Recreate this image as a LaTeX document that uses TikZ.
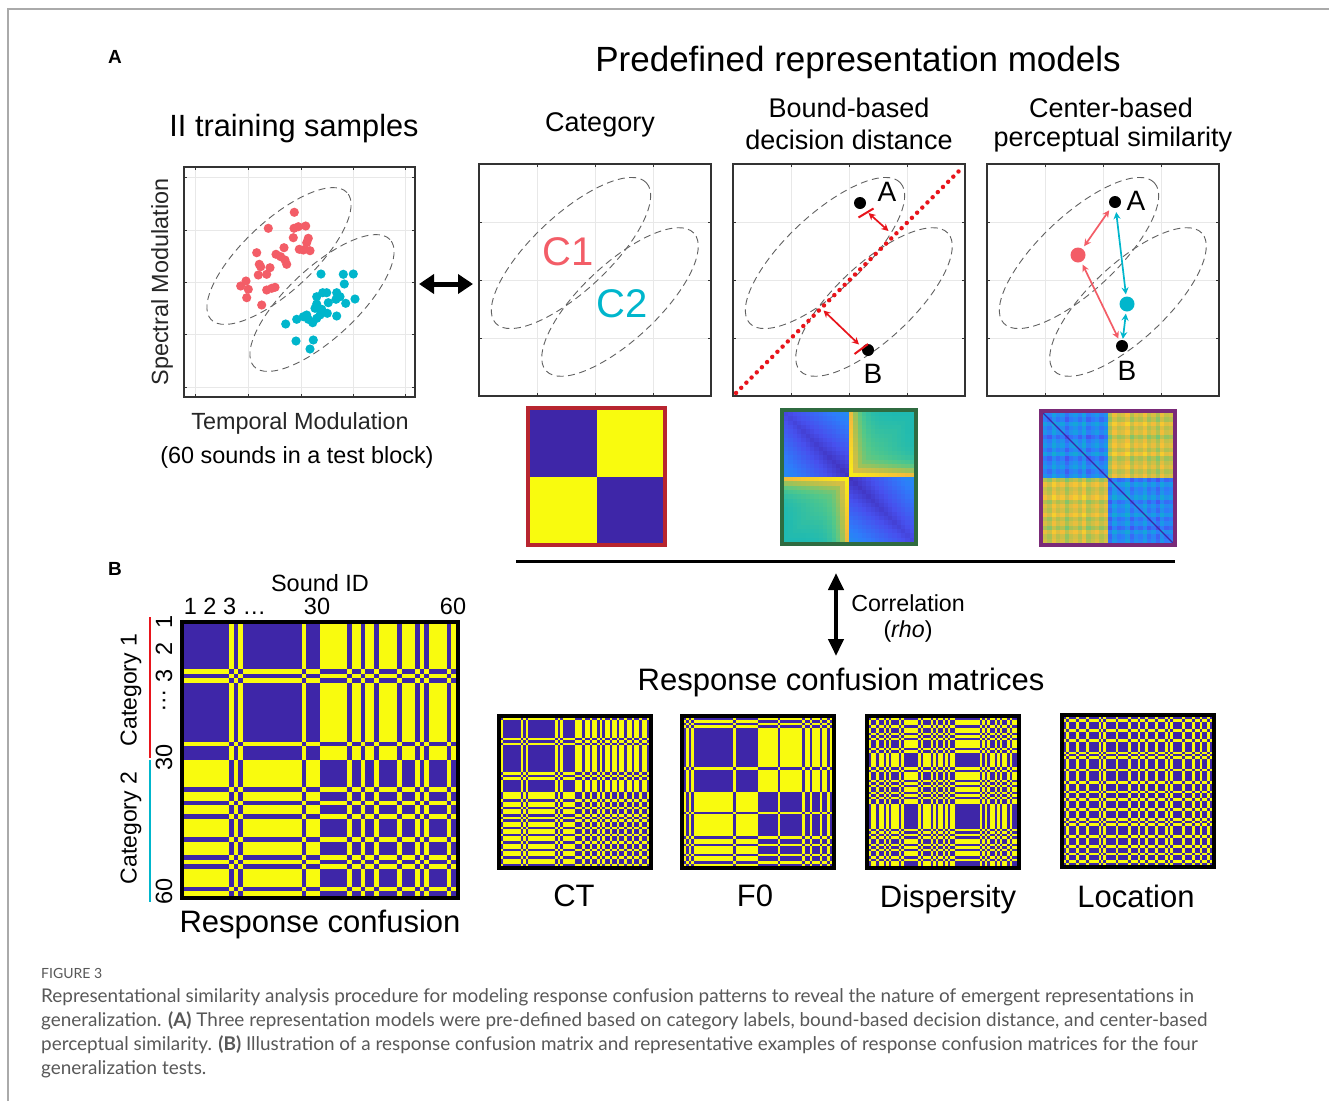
\documentclass[tikz,border=0pt]{standalone}
\usepackage{fontspec}
\setmainfont{Liberation Sans}
\newfontfamily\capfont{Lato}
\usetikzlibrary{arrows.meta}

\definecolor{pblue}{RGB}{62,38,168}
\definecolor{pyellow}{RGB}{249,251,14}
\definecolor{par0}{RGB}{62,38,168}
\definecolor{par1}{RGB}{71,80,238}
\definecolor{par2}{RGB}{45,125,250}
\definecolor{par3}{RGB}{22,160,226}
\definecolor{par4}{RGB}{18,183,188}
\definecolor{par5}{RGB}{84,200,136}
\definecolor{par6}{RGB}{172,193,80}
\definecolor{par7}{RGB}{245,189,57}
\definecolor{par8}{RGB}{249,251,14}
\definecolor{scred}{RGB}{243,93,103}
\definecolor{sccyan}{RGB}{0,182,204}
\definecolor{bdred}{RGB}{232,20,27}
\definecolor{catred}{RGB}{184,37,47}
\definecolor{bndgreen}{RGB}{47,107,64}
\definecolor{cenpurple}{RGB}{122,42,120}
\definecolor{framegray}{RGB}{170,170,170}
\definecolor{axtext}{RGB}{38,38,38}
\definecolor{captext}{RGB}{88,88,88}

\newcommand\fsz[1]{\fontsize{#1}{#1}\selectfont}

% parula-like colour for a value in [0,1], stored as pcell
\newcommand\paracolor[1]{%
  \pgfmathsetmacro\pt{min(0.9999,max(0,#1))*8}%
  \pgfmathtruncatemacro\pk{floor(\pt)}%
  \pgfmathtruncatemacro\pf{(\pt-\pk)*100}%
  \pgfmathtruncatemacro\pkk{\pk+1}%
  \colorlet{pcell}{par\pkk!\pf!par\pk}}

% binary confusion matrix: blue where two sounds share a response
\newcommand\confmat[4]{%
  \fill[pblue] (#1,#2) rectangle ++(#3,#3);
  \foreach \sa/\ea/\va in #4{%
    \foreach \sb/\eb/\vb in #4{%
      \ifnum\va=\vb\relax\else
        \fill[pyellow] ({#1+\sa*#3/60},{#2+\sb*#3/60}) rectangle ({#1+\ea*#3/60},{#2+\eb*#3/60});%
      \fi}}%
  \draw[line width=4pt] (#1-2,#2-2) rectangle (#1+#3+2,#2+#3+2);}

% one model panel: grid, ticks, two category regions, frame
\newcommand\modelpanel[2]{%
  \begin{scope}[shift={(#1,#2)}]
    \foreach \g in {58,116,174}{%
      \draw[gridline] (\g,0) -- (\g,232);
      \draw[gridline] (0,\g) -- (232,\g);
      \draw[tickmark] (\g,0) -- (\g,3) (\g,232) -- (\g,229) (0,\g) -- (3,\g) (232,\g) -- (229,\g);}
    \draw[region,rotate around={43:(92,89)}] (92,89) ellipse [x radius=103pt,y radius=38pt];
    \draw[region,rotate around={43:(141,138)}] (141,138) ellipse [x radius=101pt,y radius=38pt];
    \draw[panelframe] (0,0) rectangle (232,232);
  \end{scope}}

\def\runsB{0/10/0,10/11/1,11/12/0,12/13/1,13/26/0,26/27/1,27/30/0,30/36/1,36/37/0,37/39/1,39/40/0,40/42/1,42/43/0,43/47/1,47/48/0,48/51/1,51/52/0,52/53/1,53/54/0,54/58/1,58/59/0,59/60/1}
\def\runsCT{0/1/1,1/8/0,8/9/1,9/10/0,10/11/1,11/22/0,22/23/1,23/24/0,24/25/1,25/30/0,30/33/1,33/34/0,34/36/1,36/37/0,37/39/1,39/40/0,40/41/1,41/42/0,42/44/1,44/45/0,45/47/1,47/48/0,48/50/1,50/51/0,51/53/1,53/54/0,54/56/1,56/57/0,57/59/1,59/60/0}
\def\runsFO{0/1/0,1/2/1,2/3/0,3/4/1,4/20/0,20/21/1,21/30/0,30/38/1,38/39/0,39/48/1,48/49/0,49/51/1,51/52/0,52/55/1,55/56/0,56/58/1,58/59/0,59/60/1}
\def\runsDS{0/1/0,1/3/1,3/4/0,4/6/1,6/7/0,7/8/1,8/9/0,9/12/1,12/13/0,13/14/1,14/20/0,20/21/1,21/22/0,22/25/1,25/26/0,26/27/1,27/28/0,28/30/1,30/31/0,31/32/1,32/33/0,33/35/1,35/45/0,45/46/1,46/47/0,47/48/1,48/49/0,49/51/1,51/52/0,52/53/1,53/54/0,54/56/1,56/57/0,57/58/1,58/60/0}
\def\runsLC{0/1/0,1/2/1,2/5/0,5/6/1,6/9/0,9/10/1,10/14/0,14/15/1,15/16/0,16/17/1,17/21/0,21/22/1,22/26/0,26/27/1,27/30/0,30/31/1,31/33/0,33/34/1,34/37/0,37/38/1,38/41/0,41/42/1,42/43/0,43/44/1,44/48/0,48/49/1,49/52/0,52/53/1,53/55/0,55/56/1,56/58/0,58/59/1,59/60/0}
\def\noiseA{{0.2,-0.5,0.8,-0.1,0.4,-0.9,0.1,0.6,-0.3,0.9,-0.7,0.0,0.5,-0.4,0.3,-0.8,0.7,-0.2,0.1,0.9,-0.6,0.4,-0.1,0.8,-0.5,0.2,-0.9,0.6,-0.3,0.0}}

\begin{document}
\begin{tikzpicture}[x=1pt,y=-1pt,
  panelframe/.style={draw=black!80,line width=1.4pt},
  gridline/.style={draw=black!9,line width=0.9pt},
  tickmark/.style={draw=black!80,line width=1pt},
  region/.style={draw=black!62,line width=0.9pt,dash pattern=on 7pt off 4.5pt},
  blackdot/.style={circle,fill=black,inner sep=0pt,minimum size=12pt},
  bigdot/.style={circle,inner sep=0pt,minimum size=15pt},
  ptlabel/.style={inner sep=0pt,font=\fsz{28}},
  dbl/.style={{Stealth[length=7pt,width=7pt]}-{Stealth[length=7pt,width=7pt]},line width=1.7pt},
  heading/.style={inner sep=0pt,font=\fsz{27}},
  axlabel/.style={inner sep=0pt,font=\fsz{23.4},text=axtext},
  capline/.style={anchor=west,inner sep=0pt,font=\capfont\fsz{18.9},text=captext},
]
\useasboundingbox (0,0) rectangle (1329,1101);
\fill[white] (0,0) rectangle (1329,1101);
\draw[framegray,line width=1.5pt] (8,1101) -- (8,9) -- (1329,9);

% ---------- headings ----------
\node[inner sep=0pt,font=\bfseries\fsz{19}] (labA) at (115,57) {A};
\node[inner sep=0pt,font=\bfseries\fsz{19}] (labB) at (115,569) {B};
\node[inner sep=0pt,font=\fsz{35}] (ttl) at (858,62) {Predefined representation models};
\node[inner sep=0pt,font=\fsz{30.7}] (iit) at (294,129) {II training samples};
\node[heading] (hcat) at (600,125) {Category};
\node[heading] (hb1) at (849,108) {Bound-based};
\node[heading] (hb2) at (849,140) {decision distance};
\node[heading] (hc1) at (1111,108) {Center-based};
\node[heading] (hc2) at (1113,140) {perceptual similarity};

% ---------- training samples scatter ----------
\foreach \g in {195,248,301,353,405} \draw[gridline] (\g,167) -- (\g,397);
\foreach \g in {177,230,282,334,387} \draw[gridline] (184,\g) -- (415,\g);
\foreach \g in {195,248,301,353,405} \draw[tickmark] (\g,167) -- (\g,170) (\g,397) -- (\g,394);
\foreach \g in {177,230,282,334,387} \draw[tickmark] (184,\g) -- (187,\g) (415,\g) -- (412,\g);
\draw[region,rotate around={43:(279,256)}] (279,256) ellipse [x radius=93pt,y radius=35pt];
\draw[region,rotate around={43:(322,303)}] (322,303) ellipse [x radius=93pt,y radius=35pt];
\foreach \px/\py in {294.3/212.3,268.3/228.3,294/228.3,298.3/226.7,305.7/226,293.3/237.7,308.3/238.3,306.7/242.7,256.7/252.7,284/247.7,299.3/249.3,303.3/250,310/250.7,276/254.3,280.7/256.7,285/260,286.7/264.3,259.3/264.3,270/267.7,258.3/275,266.7/274.3,246/281,240.7/286,248.3/289.3,266.7/290,271.7/288.3,275/287.3,246.7/297.7,261.7/305,260.7/266.7}
  \fill[scred] (\px,\py) circle (4.6pt);
\foreach \px/\py in {321/274,343.3/274.3,353.3/274,344.3/284,322.7/292.7,326.7/292.7,336.7/292.7,340/296.7,336/299.3,316.7/296.7,328.3/302.7,316.7/304,345.7/303.3,355/299,315/308.3,321.7/309.3,327.3/313.3,320/315,306.7/315,303.3/316.7,296.7/319.3,285.7/324,312.7/322.7,316.7/318.3,336.7/316,296/341,313.3/340,310/349,308.3/319.3}
  \fill[sccyan] (\px,\py) circle (4.6pt);
\draw[panelframe] (184,167) rectangle (415,397);
\node[axlabel,rotate=90] (ylab) at (162,282) {Spectral Modulation};
\node[axlabel] (xlab) at (300,423) {Temporal Modulation};
\node[axlabel,text=black] (xlab2) at (297,457) {(60 sounds in a test block)};

% ---------- model panels ----------
\modelpanel{479}{164}
\modelpanel{733}{164}
\modelpanel{987}{164}

\coordinate (scatR) at (419,284);
\coordinate (catL) at (473,284);
\draw[{Triangle[length=15pt,width=19pt]}-{Triangle[length=15pt,width=19pt]},line width=5pt] (scatR) -- (catL);

% category labels
\node[inner sep=0pt,font=\fsz{40},text=scred] (c1) at (568,252) {C1};
\node[inner sep=0pt,font=\fsz{40},text=sccyan] (c2) at (622,304) {C2};

% bound-based panel
\coordinate (bndS) at (736,393);
\coordinate (bndE) at (963,167);
\draw[bdred,line width=4.4pt,line cap=round,dash pattern=on 0.1pt off 7.2pt] (bndS) -- (bndE);
\node[blackdot] (bA) at (860,203) {};
\node[ptlabel] (bAl) at (887,192) {A};
\node[blackdot] (bB) at (868,350) {};
\node[ptlabel] (bBl) at (873,374) {B};
\coordinate (barA1) at (858.5,217.5);
\coordinate (barA2) at (873.5,208.5);
\coordinate (barB1) at (854.5,354);
\coordinate (barB2) at (868,344);
\draw[bdred,line width=2pt] (barA1) -- (barA2);
\draw[bdred,line width=2pt] (barB1) -- (barB2);
\coordinate (arA1) at (868.5,213);
\coordinate (arA2) at (888.5,231);
\coordinate (arB1) at (823.5,310.5);
\coordinate (arB2) at (859,344.5);
\draw[dbl,bdred] (arA1) -- (arA2);
\draw[dbl,bdred] (arB1) -- (arB2);

% center-based panel
\node[blackdot] (cA) at (1115,202) {};
\node[ptlabel] (cAl) at (1136,201) {A};
\node[bigdot,fill=scred] (cR) at (1078,255) {};
\node[bigdot,fill=sccyan] (cC) at (1127,304) {};
\node[blackdot] (cB) at (1122,346) {};
\node[ptlabel] (cBl) at (1127,371) {B};
\draw[dbl,scred,shorten <=4pt,shorten >=3pt] (cA) -- (cR);
\draw[dbl,scred,shorten <=3pt,shorten >=2pt] (cR) -- (cB);
\draw[dbl,sccyan,shorten <=4pt,shorten >=2pt] (cA) -- (cC);
\draw[dbl,sccyan,shorten <=2pt,shorten >=1pt] (cC) -- (cB);

% ---------- model matrices ----------
% category labels model
\fill[pblue] (530,410) rectangle ++(133,133);
\fill[pyellow] (596.5,410) rectangle (663,476.5);
\fill[pyellow] (530,476.5) rectangle (596.5,543);
\draw[catred,line width=4pt] (528,408) rectangle (665,545);

% bound-based decision distance model
\begin{scope}[shift={(784,412)}]
\foreach \i in {0,...,29}{
  \foreach \j in {0,...,29}{
    \pgfmathsetmacro\pa{abs((\i+0.5)/15-1)}
    \pgfmathsetmacro\pb{abs((\j+0.5)/15-1)}
    \pgfmathsetmacro\tv{((\i<15)==(\j<15)) ? (0.04+0.27*abs(\pa-\pb)+0.06*min(\pa,\pb)) : (0.52+0.44*exp(-8*min(\pa,\pb))+0.12*(1-max(\pa,\pb)))}
    \paracolor{\tv}
    \fill[pcell] ({\j*130/30},{\i*130/30}) rectangle ++(4.7,4.7);
  }}
\end{scope}
\draw[bndgreen,line width=4pt] (782,410) rectangle (916,544);

% center-based perceptual similarity model
\begin{scope}[shift={(1043,413)}]
\foreach \i in {0,...,29}{
  \foreach \j in {0,...,29}{
    \pgfmathsetmacro\ni{\noiseA[\i]}
    \pgfmathsetmacro\nj{\noiseA[\j]}
    \pgfmathsetmacro\tv{((\i<15)==(\j<15)) ? (0.28+0.09*(\ni+\nj)) : (0.8+0.07*(\ni+\nj))}
    \paracolor{\tv}
    \fill[pcell] ({\j*130/30},{\i*130/30}) rectangle ++(4.7,4.7);
  }}
\draw[par0,line width=1.3pt] (0,0) -- (130,130);
\end{scope}
\draw[cenpurple,line width=4pt] (1041,411) rectangle (1175,545);

\draw[line width=3pt] (516,561) -- (1175,561);

% correlation arrow
\coordinate (corT) at (836,573);
\coordinate (corB) at (836,656);
\draw[{Triangle[length=17pt,width=15pt]}-{Triangle[length=17pt,width=15pt]},line width=4pt] (corT) -- (corB);
\node[inner sep=0pt,font=\fsz{23.2}] (corr) at (908,603) {Correlation};
\node[inner sep=0pt,font=\fsz{23.2}] (rho) at (908,631) {(\textit{rho})};

\node[inner sep=0pt,font=\fsz{31}] (rcm) at (841,682) {Response confusion matrices};

% ---------- response confusion matrices ----------
\confmat{184}{624}{272}{\runsB}
\confmat{501}{718}{148}{\runsCT}
\confmat{684}{718}{148}{\runsFO}
\confmat{869}{718}{148}{\runsDS}
\confmat{1064}{717}{148}{\runsLC}

\node[inner sep=0pt,font=\fsz{31}] (lct) at (574,896) {CT};
\node[inner sep=0pt,font=\fsz{31}] (lf0) at (755,896) {F0};
\node[inner sep=0pt,font=\fsz{31}] (lds) at (948,899) {Dispersity};
\node[inner sep=0pt,font=\fsz{31}] (llc) at (1136,896) {Location};

% big matrix axes
\node[inner sep=0pt,font=\fsz{23.5}] (sid) at (320,583) {Sound ID};
\node[inner sep=0pt,font=\fsz{23.5}] (n123) at (225,606) {1 2 3 …};
\node[inner sep=0pt,font=\fsz{23.5}] (n30) at (317,606) {30};
\node[inner sep=0pt,font=\fsz{23.5}] (n60) at (453,606) {60};
\coordinate (c1top) at (150,617);
\coordinate (c1bot) at (150,758);
\coordinate (c2top) at (150,760);
\coordinate (c2bot) at (150,902);
\draw[bdred,line width=2.6pt] (c1top) -- (c1bot);
\draw[sccyan,line width=2.6pt] (c2top) -- (c2bot);
\node[inner sep=0pt,font=\fsz{23.5},rotate=90] (r1) at (164,622) {1};
\node[inner sep=0pt,font=\fsz{23.5},rotate=90] (r2) at (164,649) {2};
\node[inner sep=0pt,font=\fsz{23.5},rotate=90] (r3) at (164,676) {3};
\node[inner sep=0pt,font=\fsz{23.5},rotate=90] (rdots) at (164,701) {…};
\node[inner sep=0pt,font=\fsz{23.5},rotate=90] (r30) at (164,757) {30};
\node[inner sep=0pt,font=\fsz{23.5},rotate=90] (r60) at (164,891) {60};
\node[inner sep=0pt,font=\fsz{23},rotate=90] (cat1) at (131,690) {Category 1};
\node[inner sep=0pt,font=\fsz{23},rotate=90] (cat2) at (131,828) {Category 2};
\node[inner sep=0pt,font=\fsz{31}] (rc) at (320,924) {Response confusion};

% ---------- caption ----------
\node[capline,font=\capfont\fsz{14}] (fig) at (41,973) {FIGURE 3};
\node[capline] (cl1) at (41,997) {Representational similarity analysis procedure for modeling response confusion patterns to reveal the nature of emergent representations in};
\node[capline] (cl2) at (41,1021) {generalization. \textbf{(A)} Three representation models were pre-defined based on category labels, bound-based decision distance, and center-based};
\node[capline] (cl3) at (41,1045) {perceptual similarity. \textbf{(B)} Illustration of a response confusion matrix and representative examples of response confusion matrices for the four};
\node[capline] (cl4) at (41,1069) {generalization tests.};
\end{tikzpicture}
\end{document}
